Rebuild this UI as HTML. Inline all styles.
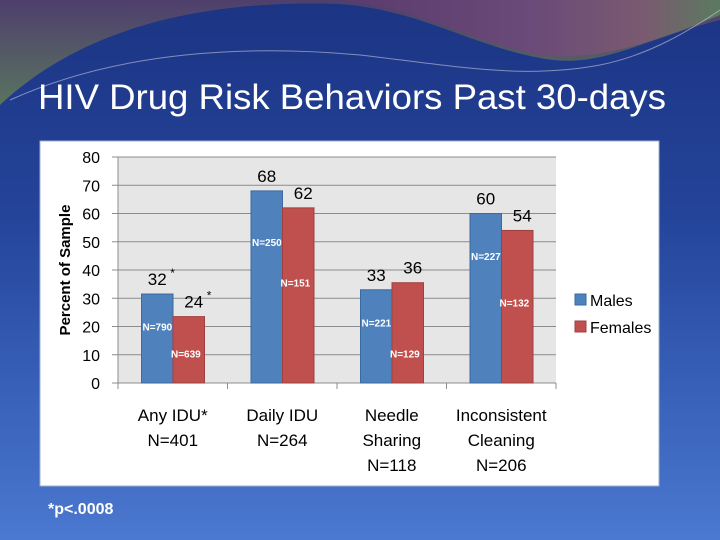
<!DOCTYPE html>
<html><head><meta charset="utf-8"><style>
html,body{margin:0;padding:0;width:720px;height:540px;overflow:hidden}
body{background:linear-gradient(180deg,#1c3483 0%,#24449a 40%,#3a63bb 75%,#4b78d0 100%);font-family:"Liberation Sans",sans-serif;position:relative}
</style></head><body>
<svg width="720" height="540" style="position:absolute;left:0;top:0">
<defs>
<linearGradient id="wave" x1="0" y1="0" x2="1" y2="0">
<stop offset="0" stop-color="#5b3a6e"/><stop offset="0.5" stop-color="#6a4a78"/><stop offset="0.8" stop-color="#7a5a70"/><stop offset="1" stop-color="#5a7a60"/>
</linearGradient>
<linearGradient id="wave2" x1="0" y1="0" x2="0" y2="1">
<stop offset="0" stop-color="#54406a"/><stop offset="1" stop-color="#5f7a5a"/>
</linearGradient>
</defs>
<path d="M0,0 L720,0 L720,20 C640,40 600,70 540,58 C470,45 420,10 340,4 C220,0 90,20 0,105 Z" fill="url(#wave2)" opacity="0.9"/>
<path d="M340,0 L720,0 L720,15 C660,40 600,62 540,55 C470,42 420,8 340,0 Z" fill="url(#wave)"/>
<path d="M10,100 C120,50 250,45 360,55 C450,65 520,80 600,65 C650,55 690,30 720,10" stroke="#c8c8e0" stroke-width="1" fill="none" opacity="0.6"/>
<text x="38" y="109" fill="#ffffff" font-size="35" textLength="628" lengthAdjust="spacingAndGlyphs">HIV Drug Risk Behaviors Past 30-days</text>
<rect x="40" y="141" width="619" height="345" fill="#ffffff" stroke="#9fb0cc"/>
<g id="chart"></g>
<text x="48" y="514" fill="#ffffff" font-size="16" font-weight="bold">*p&lt;.0008</text>
</svg>
<script>
const categories=[["Any IDU*","N=401"],["Daily IDU","N=264"],["Needle","Sharing","N=118"],["Inconsistent","Cleaning","N=206"]];
const males=[31.5,68,33,60];
const females=[23.5,62,35.5,54];
const maleLabels=["32","68","33","60"];
const femaleLabels=["24","62","36","54"];
const maleStars=["*","","",""];
const femaleStars=["*","","",""];
const maleN=["N=790","N=250","N=221","N=227"];
const femaleN=["N=639","N=151","N=129","N=132"];
const maleNy=[20,50,21.5,45];
const femaleNy=[10.5,35.5,10.5,28.5];
const yTicks=[0,10,20,30,40,50,60,70,80];
const NS="http://www.w3.org/2000/svg";
const g=document.getElementById('chart');
const X0=118,X1=556,Y0=383,Y1=157,YMAX=80;
const y=v=>Y0-(v/YMAX)*(Y0-Y1);
const gw=(X1-X0)/categories.length;
const bw=31.5,off=23.5;
function mk(tag,attrs,txt){const e=document.createElementNS(NS,tag);for(const k in attrs)e.setAttribute(k,attrs[k]);if(txt!==undefined)e.textContent=txt;g.appendChild(e);return e;}
let e=mk('rect',{x:X0,y:Y1,width:X1-X0,height:Y0-Y1,fill:'#e6e6e6'});


yTicks.forEach(t=>{
 let l=mk('line',{x1:X0-6,x2:X1,y1:y(t),y2:y(t),stroke:'#8c8c8c','stroke-width':1});
 
 
 let tx=mk('text',{x:100,y:y(t)+6,'text-anchor':'end','font-size':16,fill:'#000'},t);
 
 
});
let ax=mk('line',{x1:X0,x2:X0,y1:Y1,y2:Y0+4,stroke:'#8c8c8c'});


for(let i=0;i<=categories.length;i++){
 let t=mk('line',{x1:X0+i*gw,x2:X0+i*gw,y1:Y0,y2:Y0+6,stroke:'#8c8c8c'});
 
 
}
let yt=mk('text',{x:0,y:0,transform:'translate(70,270) rotate(-90)','text-anchor':'middle','font-size':15,'font-weight':'bold',fill:'#000'},'Percent of Sample');


categories.forEach((c,i)=>{
 const gx=X0+i*gw;
 const mx=gx+off,fx=gx+off+bw;
 let b=mk('rect',{x:mx,y:y(males[i]),width:bw,height:Y0-y(males[i]),fill:'#4f81bd',stroke:'#3a6aa0'});
 
 
 let b2=mk('rect',{x:fx,y:y(females[i]),width:bw,height:Y0-y(females[i]),fill:'#c0504d',stroke:'#a04040'});
 
 
 let v1=mk('text',{x:mx+bw/2,y:y(males[i])-9,'text-anchor':'middle','font-size':17,fill:'#000'},maleLabels[i]);
 
 
 let v2=mk('text',{x:fx+bw/2+5,y:y(females[i])-9,'text-anchor':'middle','font-size':17,fill:'#000'},femaleLabels[i]);
 
 
 if(maleStars[i]){let s=mk('text',{x:mx+bw/2+13,y:y(males[i])-17,'font-size':12},maleStars[i]);}
 if(femaleStars[i]){let s=mk('text',{x:fx+bw/2+18,y:y(females[i])-17,'font-size':12},femaleStars[i]);}
 let n1=mk('text',{x:mx+1,y:y(maleNy[i])+4,'font-size':10,'font-weight':'bold',fill:'#ffffff'},maleN[i]);
 
 
 let n2=mk('text',{x:fx-2,y:y(femaleNy[i])+4,'font-size':10,'font-weight':'bold',fill:'#ffffff'},femaleN[i]);
 
 
 c.forEach((line,j)=>{
  let t=mk('text',{x:gx+gw/2,y:421+j*25,'text-anchor':'middle','font-size':17,fill:'#000'},line);
  
  
 });
});
let l1=mk('rect',{x:575,y:294,width:11,height:11,fill:'#4f81bd',stroke:'#3a6aa0'});


let lt1=mk('text',{x:590,y:306,'font-size':16},'Males');


let l2=mk('rect',{x:575,y:321,width:11,height:11,fill:'#c0504d',stroke:'#a04040'});


let lt2=mk('text',{x:590,y:333,'font-size':16},'Females');


</script>
</body></html>
